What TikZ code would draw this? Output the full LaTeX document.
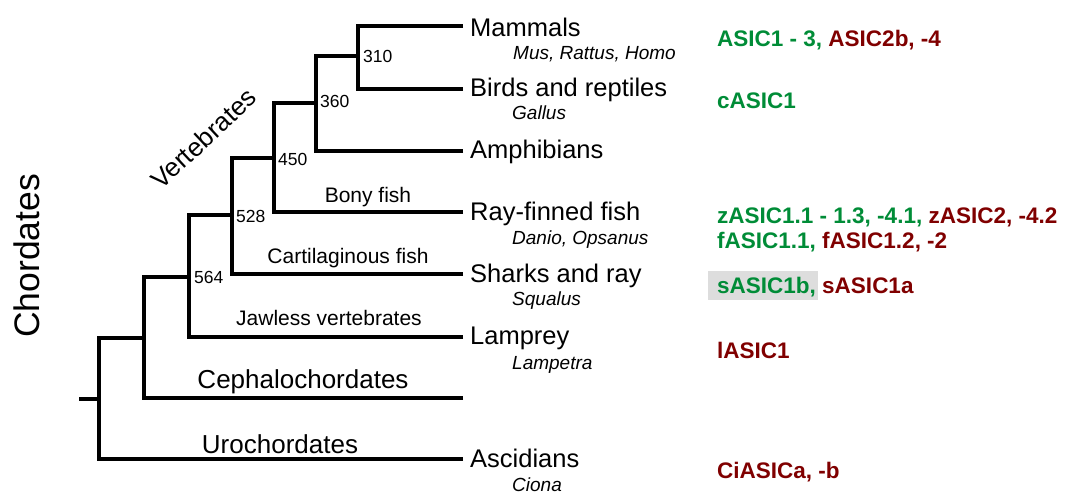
\documentclass[tikz,border=0pt]{standalone}
\usepackage{fontspec}
\setmainfont{Liberation Sans}
\definecolor{asicgreen}{RGB}{0,140,55}
\definecolor{asicred}{RGB}{128,0,0}
\definecolor{boxgray}{RGB}{221,221,221}
\begin{document}
\begin{tikzpicture}[x=1pt,y=-1pt,
  branch/.style={line width=3.2pt},
  leaflab/.style={anchor=base west,inner sep=0pt,font=\fontsize{25.5}{30}\selectfont},
  species/.style={anchor=base west,inner sep=0pt,font=\fontsize{19}{23}\selectfont\itshape},
  agelab/.style={anchor=base west,inner sep=0pt,font=\fontsize{17.5}{21}\selectfont},
  cladelab/.style={anchor=base,inner sep=0pt,font=\fontsize{21}{25}\selectfont},
  biglab/.style={anchor=base,inner sep=0pt,font=\fontsize{26}{30}\selectfont},
  asic/.style={anchor=base west,inner sep=0pt,font=\fontsize{22.5}{27}\selectfont\bfseries},
]
\useasboundingbox (0,0) rectangle (1066,493);

% junctions
\coordinate (n310) at (358,56);
\coordinate (n360) at (316,103);
\coordinate (n450) at (274,158);
\coordinate (n528) at (232,215);
\coordinate (n564) at (189,277);
\coordinate (nceph) at (144,338);
\coordinate (nroot) at (99,399);
\coordinate (root) at (79,399);
% leaf ends
\coordinate (lmam) at (463,26);
\coordinate (lbird) at (463,89);
\coordinate (lamph) at (463,151);
\coordinate (lray) at (463,212);
\coordinate (lshark) at (463,274);
\coordinate (llamp) at (463,337);
\coordinate (lceph) at (463,398);
\coordinate (lasc) at (463,459);

\draw[branch] (lmam) -| (n310);
\draw[branch] (lbird) -| (n310);
\draw[branch] (n310) -| (n360);
\draw[branch] (lamph) -| (n360);
\draw[branch] (n360) -| (n450);
\draw[branch] (lray) -| (n450);
\draw[branch] (n450) -| (n528);
\draw[branch] (lshark) -| (n528);
\draw[branch] (n528) -| (n564);
\draw[branch] (llamp) -| (n564);
\draw[branch] (n564) -| (nceph);
\draw[branch] (lceph) -| (nceph);
\draw[branch] (nceph) -| (nroot);
\draw[branch] (lasc) -| (nroot);
\draw[branch] (root) -- (nroot);

% ages
\node[agelab] (a310) at (363,62.5) {310};
\node[agelab] (a360) at (320,107.5) {360};
\node[agelab] (a450) at (278,165) {450};
\node[agelab] (a528) at (236,222) {528};
\node[agelab] (a564) at (194,283.5) {564};

% clade labels
\node[cladelab] (bony) at (368,202.5) {Bony fish};
\node[cladelab] (cart) at (348,263) {Cartilaginous fish};
\node[cladelab] (jawless) at (329,325) {Jawless vertebrates};
\node[biglab] (ceph) at (303,388) {Cephalochordates};
\node[biglab] (uro) at (280,453) {Urochordates};
\node[inner sep=0pt,rotate=43,font=\fontsize{26}{30}\selectfont] (vert) at (203.5,138.5) {Vertebrates};
\node[inner sep=0pt,rotate=90,font=\fontsize{35.5}{40}\selectfont] (chord) at (27,256) {Chordates};

% leaf labels
\node[leaflab] (tmam) at (470,36) {Mammals};
\node[species] (smam) at (513,59) {Mus, Rattus, Homo};
\node[leaflab] (tbird) at (470,96) {Birds and reptiles};
\node[species] (sbird) at (512,119) {Gallus};
\node[leaflab] (tamph) at (470,158) {Amphibians};
\node[leaflab] (tray) at (470,220) {Ray-finned fish};
\node[species] (sray) at (512,244) {Danio, Opsanus};
\node[leaflab] (tshark) at (470,282) {Sharks and ray};
\node[species] (sshark) at (512,305) {Squalus};
\node[leaflab] (tlamp) at (470,344) {Lamprey};
\node[species] (slamp) at (512,369) {Lampetra};
\node[leaflab] (tasc) at (470,467) {Ascidians};
\node[species] (sasc) at (512,491) {Ciona};

% ASIC genes
\fill[boxgray] (708,271) rectangle (818,300);
\node[asic] (g1) at (717,46) {\textcolor{asicgreen}{ASIC1 - 3,} \textcolor{asicred}{ASIC2b, -4}};
\node[asic] (g2) at (717,108) {\textcolor{asicgreen}{cASIC1}};
\node[asic] (g3) at (717,223) {\textcolor{asicgreen}{zASIC1.1 - 1.3, -4.1,} \textcolor{asicred}{zASIC2, -4.2}};
\node[asic] (g4) at (717,248) {\textcolor{asicgreen}{fASIC1.1,} \textcolor{asicred}{fASIC1.2, -2}};
\node[asic] (g5) at (717,293) {\textcolor{asicgreen}{sASIC1b,} \textcolor{asicred}{sASIC1a}};
\node[asic] (g6) at (717,358) {\textcolor{asicred}{lASIC1}};
\node[asic] (g7) at (717,478) {\textcolor{asicred}{CiASICa, -b}};
\end{tikzpicture}
\end{document}
